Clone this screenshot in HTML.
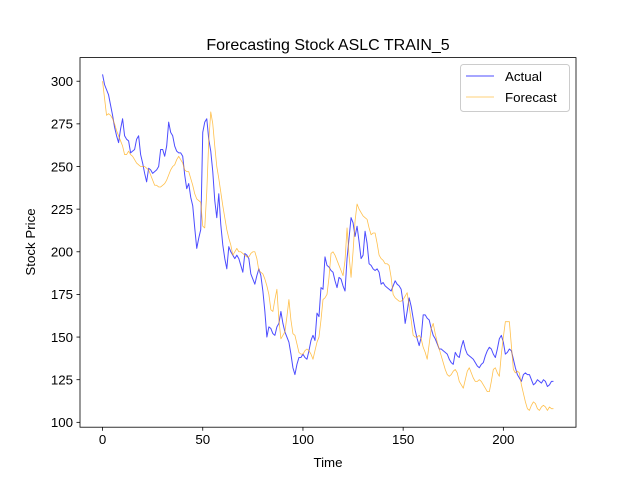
<!DOCTYPE html>
<html><head><meta charset="utf-8">
<style>
html,body{margin:0;padding:0;background:#fff;}
svg{display:block;font-family:"Liberation Sans","DejaVu Sans",sans-serif;}
</style></head>
<body>
<svg id="chart" width="640" height="480" viewBox="0 0 640 480">
<rect x="0" y="0" width="640" height="480" fill="#fff"/>
<text x="328" y="50" font-size="16" text-anchor="middle" fill="#000">Forecasting Stock ASLC TRAIN_5</text>
<text x="328" y="467" font-size="13.3" text-anchor="middle" fill="#000">Time</text>
<text x="35" y="242" font-size="13.3" text-anchor="middle" fill="#000" transform="rotate(-90 35 242)">Stock Price</text>
<g id="plot"></g>
<g id="axes"></g>
<g>
<rect x="460.5" y="64.5" width="109" height="47" rx="3" fill="#fff" fill-opacity="0.8" stroke="#ccc"/>
<line x1="466" y1="76" x2="494" y2="76" stroke="blue" stroke-opacity="0.7" stroke-width="1"/>
<text x="505" y="81" font-size="13.3" fill="#000">Actual</text>
<line x1="466" y1="97" x2="494" y2="97" stroke="orange" stroke-opacity="0.7" stroke-width="0.8"/>
<text x="505" y="102" font-size="13.3" fill="#000">Forecast</text>
</g>
</svg>
<script>
const actual = [304,298,295,292,286,280,273,268,264,272,278,268,266,265,258,259,260,266,268,257,252,246,241,249,248,246,247,248,250,260,260,256,262,276,270,268,262,259,258,258,256,245,237,240,232,227,214,202,208,213,270,276,278,266,259,247,230,220,234,216,204,196,190,203,200,198,196,198,196,192,188,199,198,196,187,184,181,186,190,186,177,165,150,156,155,152,151,156,158,165,158,153,150,147,140,132,128,134,138,138,140,138,137,142,148,151,148,164,162,179,178,197,192,191,189,188,183,179,185,184,180,177,196,208,220,217,209,215,206,196,198,212,205,193,192,190,189,190,188,181,182,180,179,178,177,180,183,181,180,178,170,158,165,173,168,161,154,149,145,150,163,163,161,160,155,151,149,146,143,143,142,141,140,137,135,134,141,139,138,144,148,143,140,139,138,137,135,133,132,134,135,139,142,144,143,140,138,143,149,151,147,140,141,143,142,137,132,128,126,124,128,129,128,128,125,122,123,125,124,123,125,124,121,122,124,124];
const forecast = [300,290,280,281,280,278,275,271,268,265,262,257,257,259,257,256,254,252,251,250,250,250,249,248,245,242,239,239,238,238,239,240,242,245,248,250,251,254,256,254,252,248,247,247,243,239,234,231,230,229,215,214,235,265,282,275,262,250,243,235,227,220,213,208,204,198,200,202,200,200,199,198,197,197,199,200,200,196,189,188,187,184,180,175,166,165,172,178,160,149,151,153,162,172,160,152,151,146,141,140,140,142,143,142,140,137,142,147,150,160,172,173,175,185,199,200,198,195,192,189,186,195,214,198,185,200,218,228,225,223,221,220,219,214,210,211,211,205,198,196,195,193,193,192,185,175,173,172,171,171,172,174,176,168,160,151,150,150,151,149,144,141,137,146,155,158,152,147,143,139,135,131,128,127,128,130,131,129,124,122,120,125,130,132,129,126,124,124,125,124,122,120,118,118,124,131,132,129,127,140,150,159,159,159,145,131,129,130,129,122,117,112,108,107,110,112,111,108,107,109,110,109,107,109,108,108];
const xTicks = [0,50,100,150,200];
const yTicks = [100,125,150,175,200,225,250,275,300];

const L=80,R=576,T=57.6,B=427.2;
const n = actual.length;
const xmin = -0.05*(n-1), xmax=(n-1)*1.05;
const allv = actual.concat(forecast);
const vmin=Math.min(...allv), vmax=Math.max(...allv), pad=(vmax-vmin)*0.05;
const ymin=vmin-pad, ymax=vmax+pad;
const sx = v => L+(v-xmin)/(xmax-xmin)*(R-L);
const sy = v => B-(v-ymin)/(ymax-ymin)*(B-T);
const NS="http://www.w3.org/2000/svg";
const plot=document.getElementById('plot');
const axes=document.getElementById('axes');
function mk(tag,attrs,parent){const e=document.createElementNS(NS,tag);for(const k in attrs)e.setAttribute(k,attrs[k]);parent.appendChild(e);return e;}
function series(arr,color,w,name){
  const d=arr.map((v,i)=>(i?'L':'M')+sx(i).toFixed(2)+' '+sy(v).toFixed(2)).join(' ');
  const p=mk('path',{d:d,fill:'none',stroke:color,'stroke-opacity':0.7,'stroke-width':w,'stroke-linejoin':'round'},plot);
  
  
}
series(actual,'blue',1,'actual-line');
series(forecast,'orange',0.8,'forecast-line');
const frame=mk('rect',{x:L,y:T,width:R-L,height:B-T,fill:'none',stroke:'#000','stroke-width':0.8},axes);


xTicks.forEach(t=>{
  const x=sx(t);
  const ln=mk('line',{x1:x,y1:B,x2:x,y2:B+3.5,stroke:'#000','stroke-width':0.8},axes);
  
  
  const tx=mk('text',{x:x,y:B+17,'font-size':13.3,'text-anchor':'middle',fill:'#000'},axes);
  tx.textContent=t;
  
  
});
yTicks.forEach(t=>{
  const y=sy(t);
  const ln=mk('line',{x1:L-3.5,y1:y,x2:L,y2:y,stroke:'#000','stroke-width':0.8},axes);
  
  
  const tx=mk('text',{x:L-7,y:y+4.8,'font-size':13.3,'text-anchor':'end',fill:'#000'},axes);
  tx.textContent=t;
  
  
});
</script>
</body></html>
